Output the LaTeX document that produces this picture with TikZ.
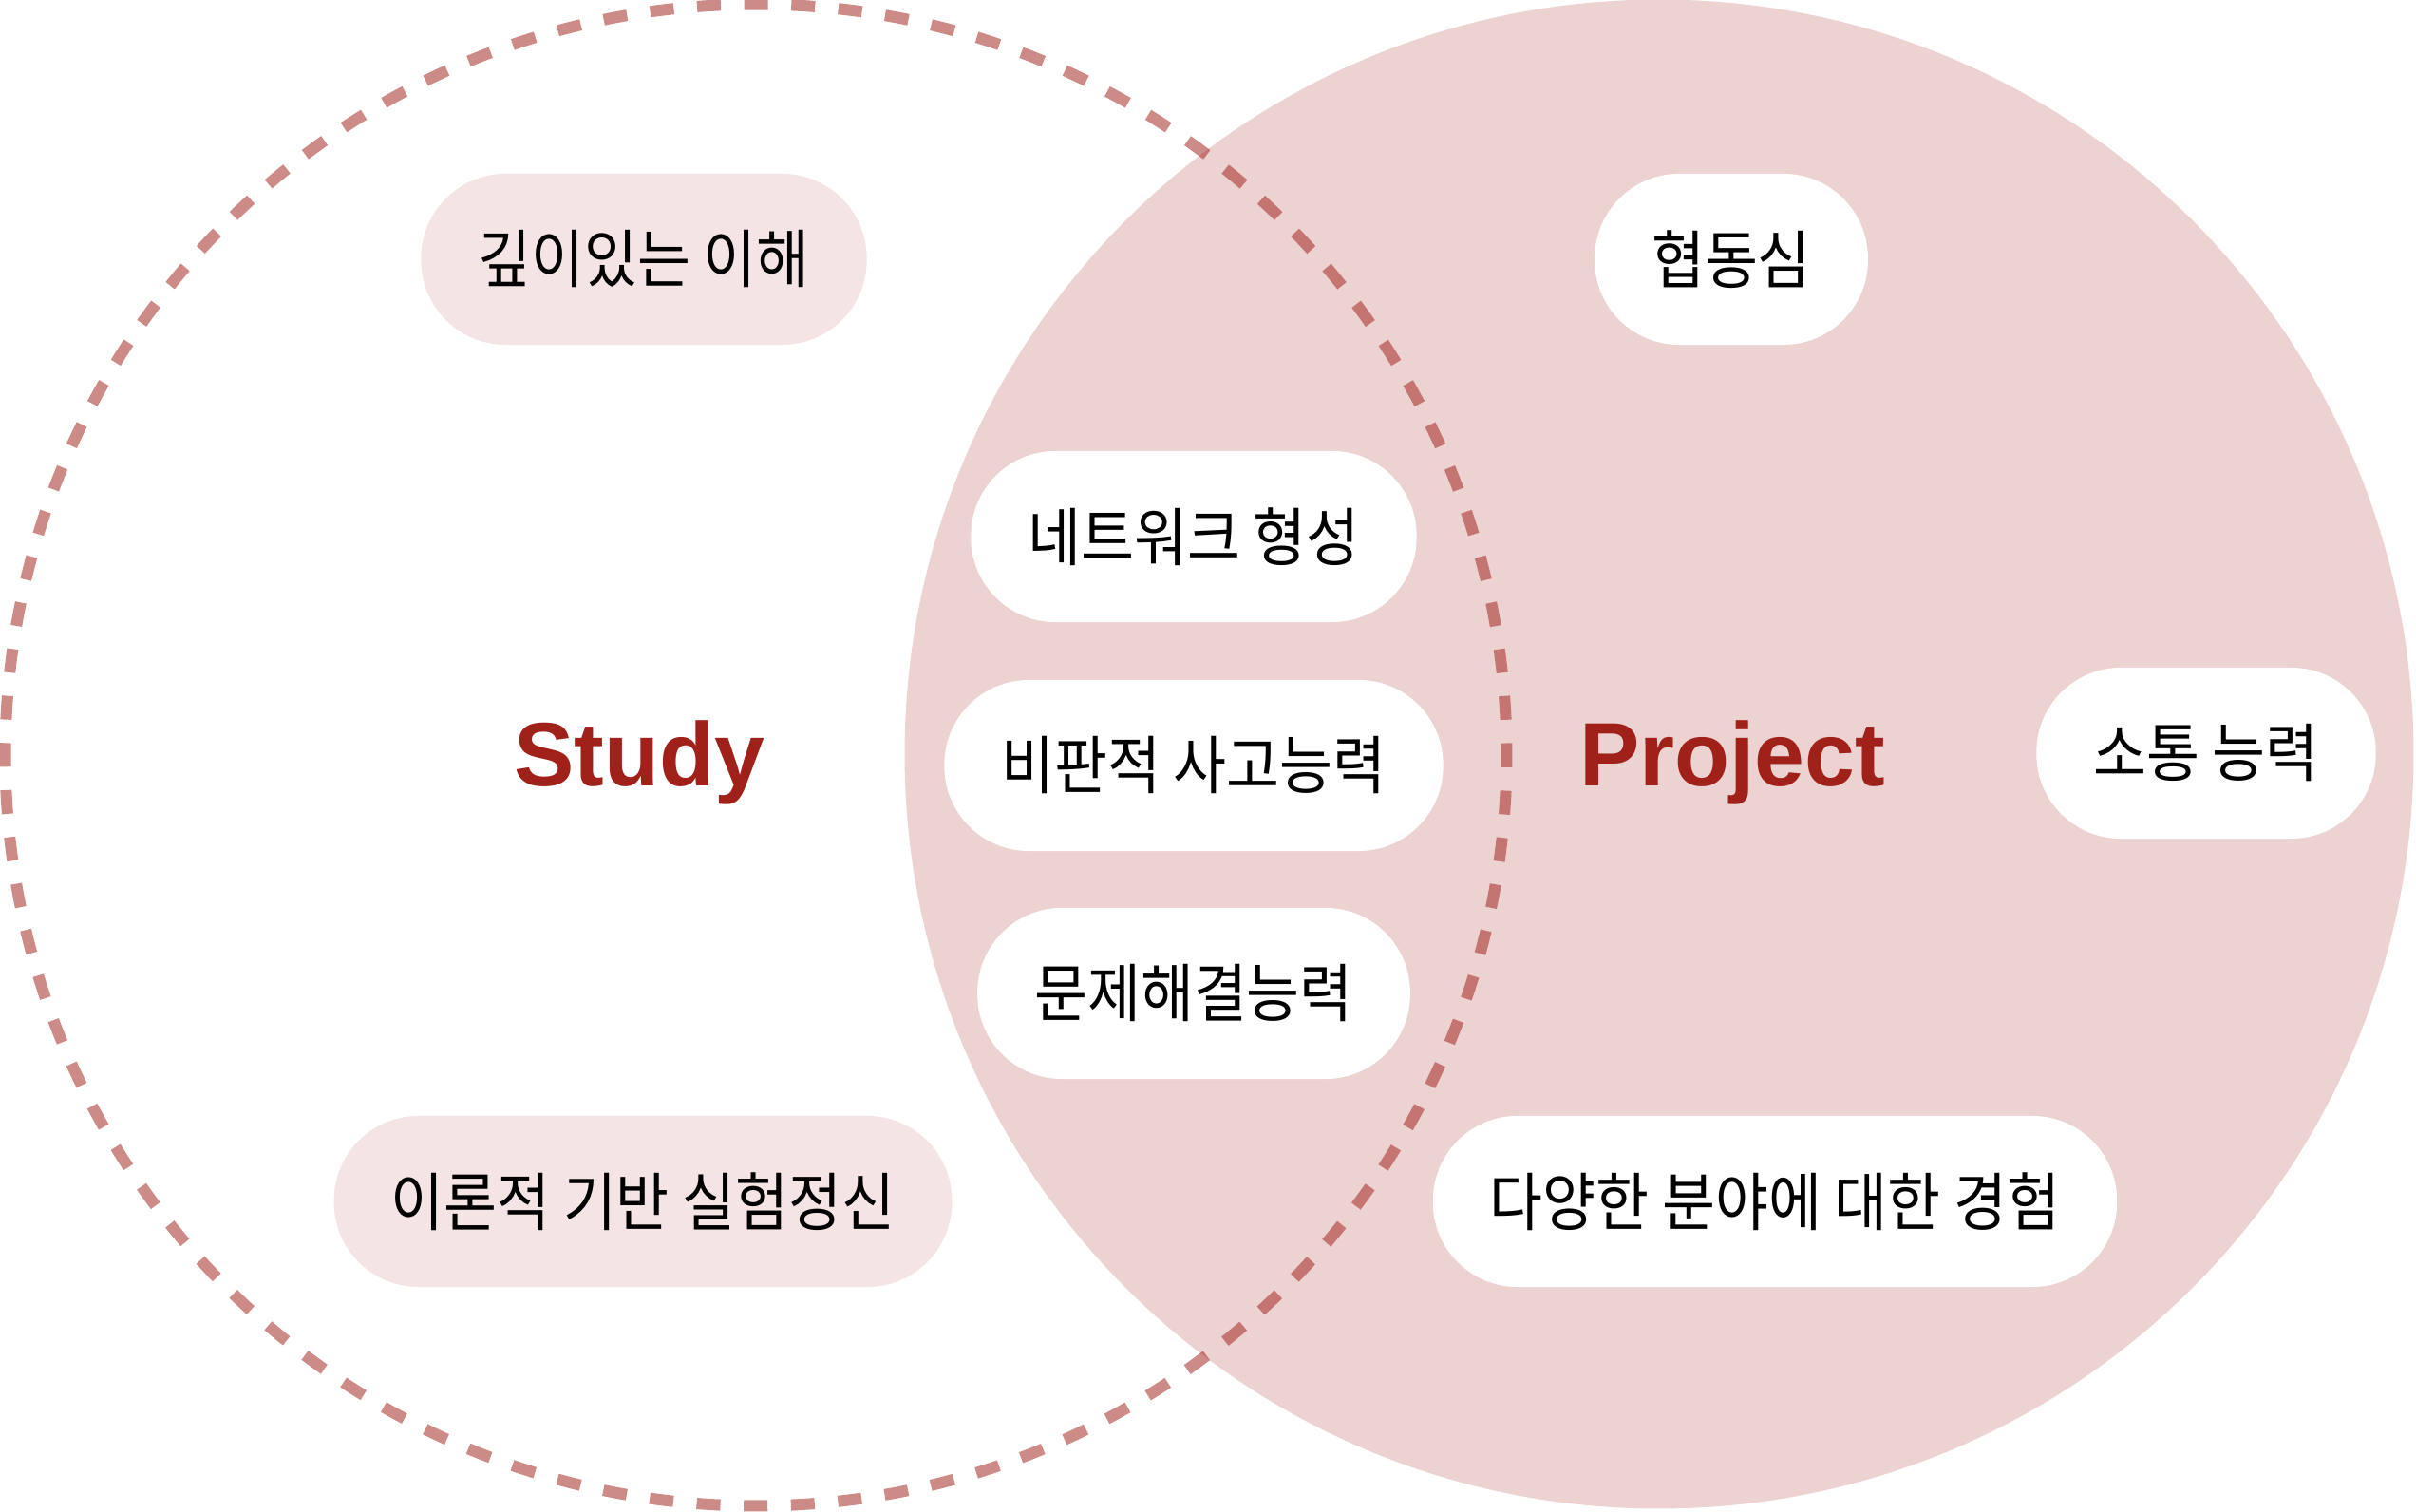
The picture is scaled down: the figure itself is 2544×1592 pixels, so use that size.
\documentclass[tikz,border=0pt]{standalone}
\usepackage{fontspec}
\setsansfont{Liberation Sans}
\newfontfamily\krfont[FakeStretch=0.91]{Noto Sans CJK KR}
\definecolor{studyred}{RGB}{160,32,26}
\tikzset{
  pill/.style={rounded corners=0.89cm, minimum height=1.8cm, inner xsep=0.6cm, font=\krfont\fontsize{19}{19}\selectfont},
  inpill/.style={pill, fill=white},
  outpill/.style={pill, fill=studyred!12!white},
  title/.style={anchor=base, text=studyred, font=\sffamily\bfseries\fontsize{27}{27}\selectfont}
}
\begin{document}
\begin{tikzpicture}[x=0.01cm, y=-0.01cm]
\useasboundingbox (0,0) rectangle (2544,1592);
\fill[studyred!20!white] (1747,794) circle (7.94cm);
\draw[studyred, draw opacity=0.52, line width=0.12cm, dash pattern=on 0.25cm off 0.2464cm, dash phase=0.125cm] (796,795) circle (7.9cm);
\node[title] (study) at (673,828) {Study};
\node[title] (project) at (1824,828) {Project};
\node[outpill] (deep) at (678,273) {깊이있는 이해};
\node[outpill] (theory) at (677,1265) {이론적 기반 실험정신};
\node[inpill] (network) at (1257,565) {네트워크 형성};
\node[inpill] (critical) at (1257,806) {비판적 사고능력};
\node[inpill] (solving) at (1257,1046) {문제해결능력};
\node[inpill] (teamwork) at (1823,273) {협동심};
\node[inpill] (talk) at (2323,793) {소통 능력};
\node[inpill] (various) at (1869,1265) {다양한 분야에 대한 경험};
\end{tikzpicture}
\end{document}
